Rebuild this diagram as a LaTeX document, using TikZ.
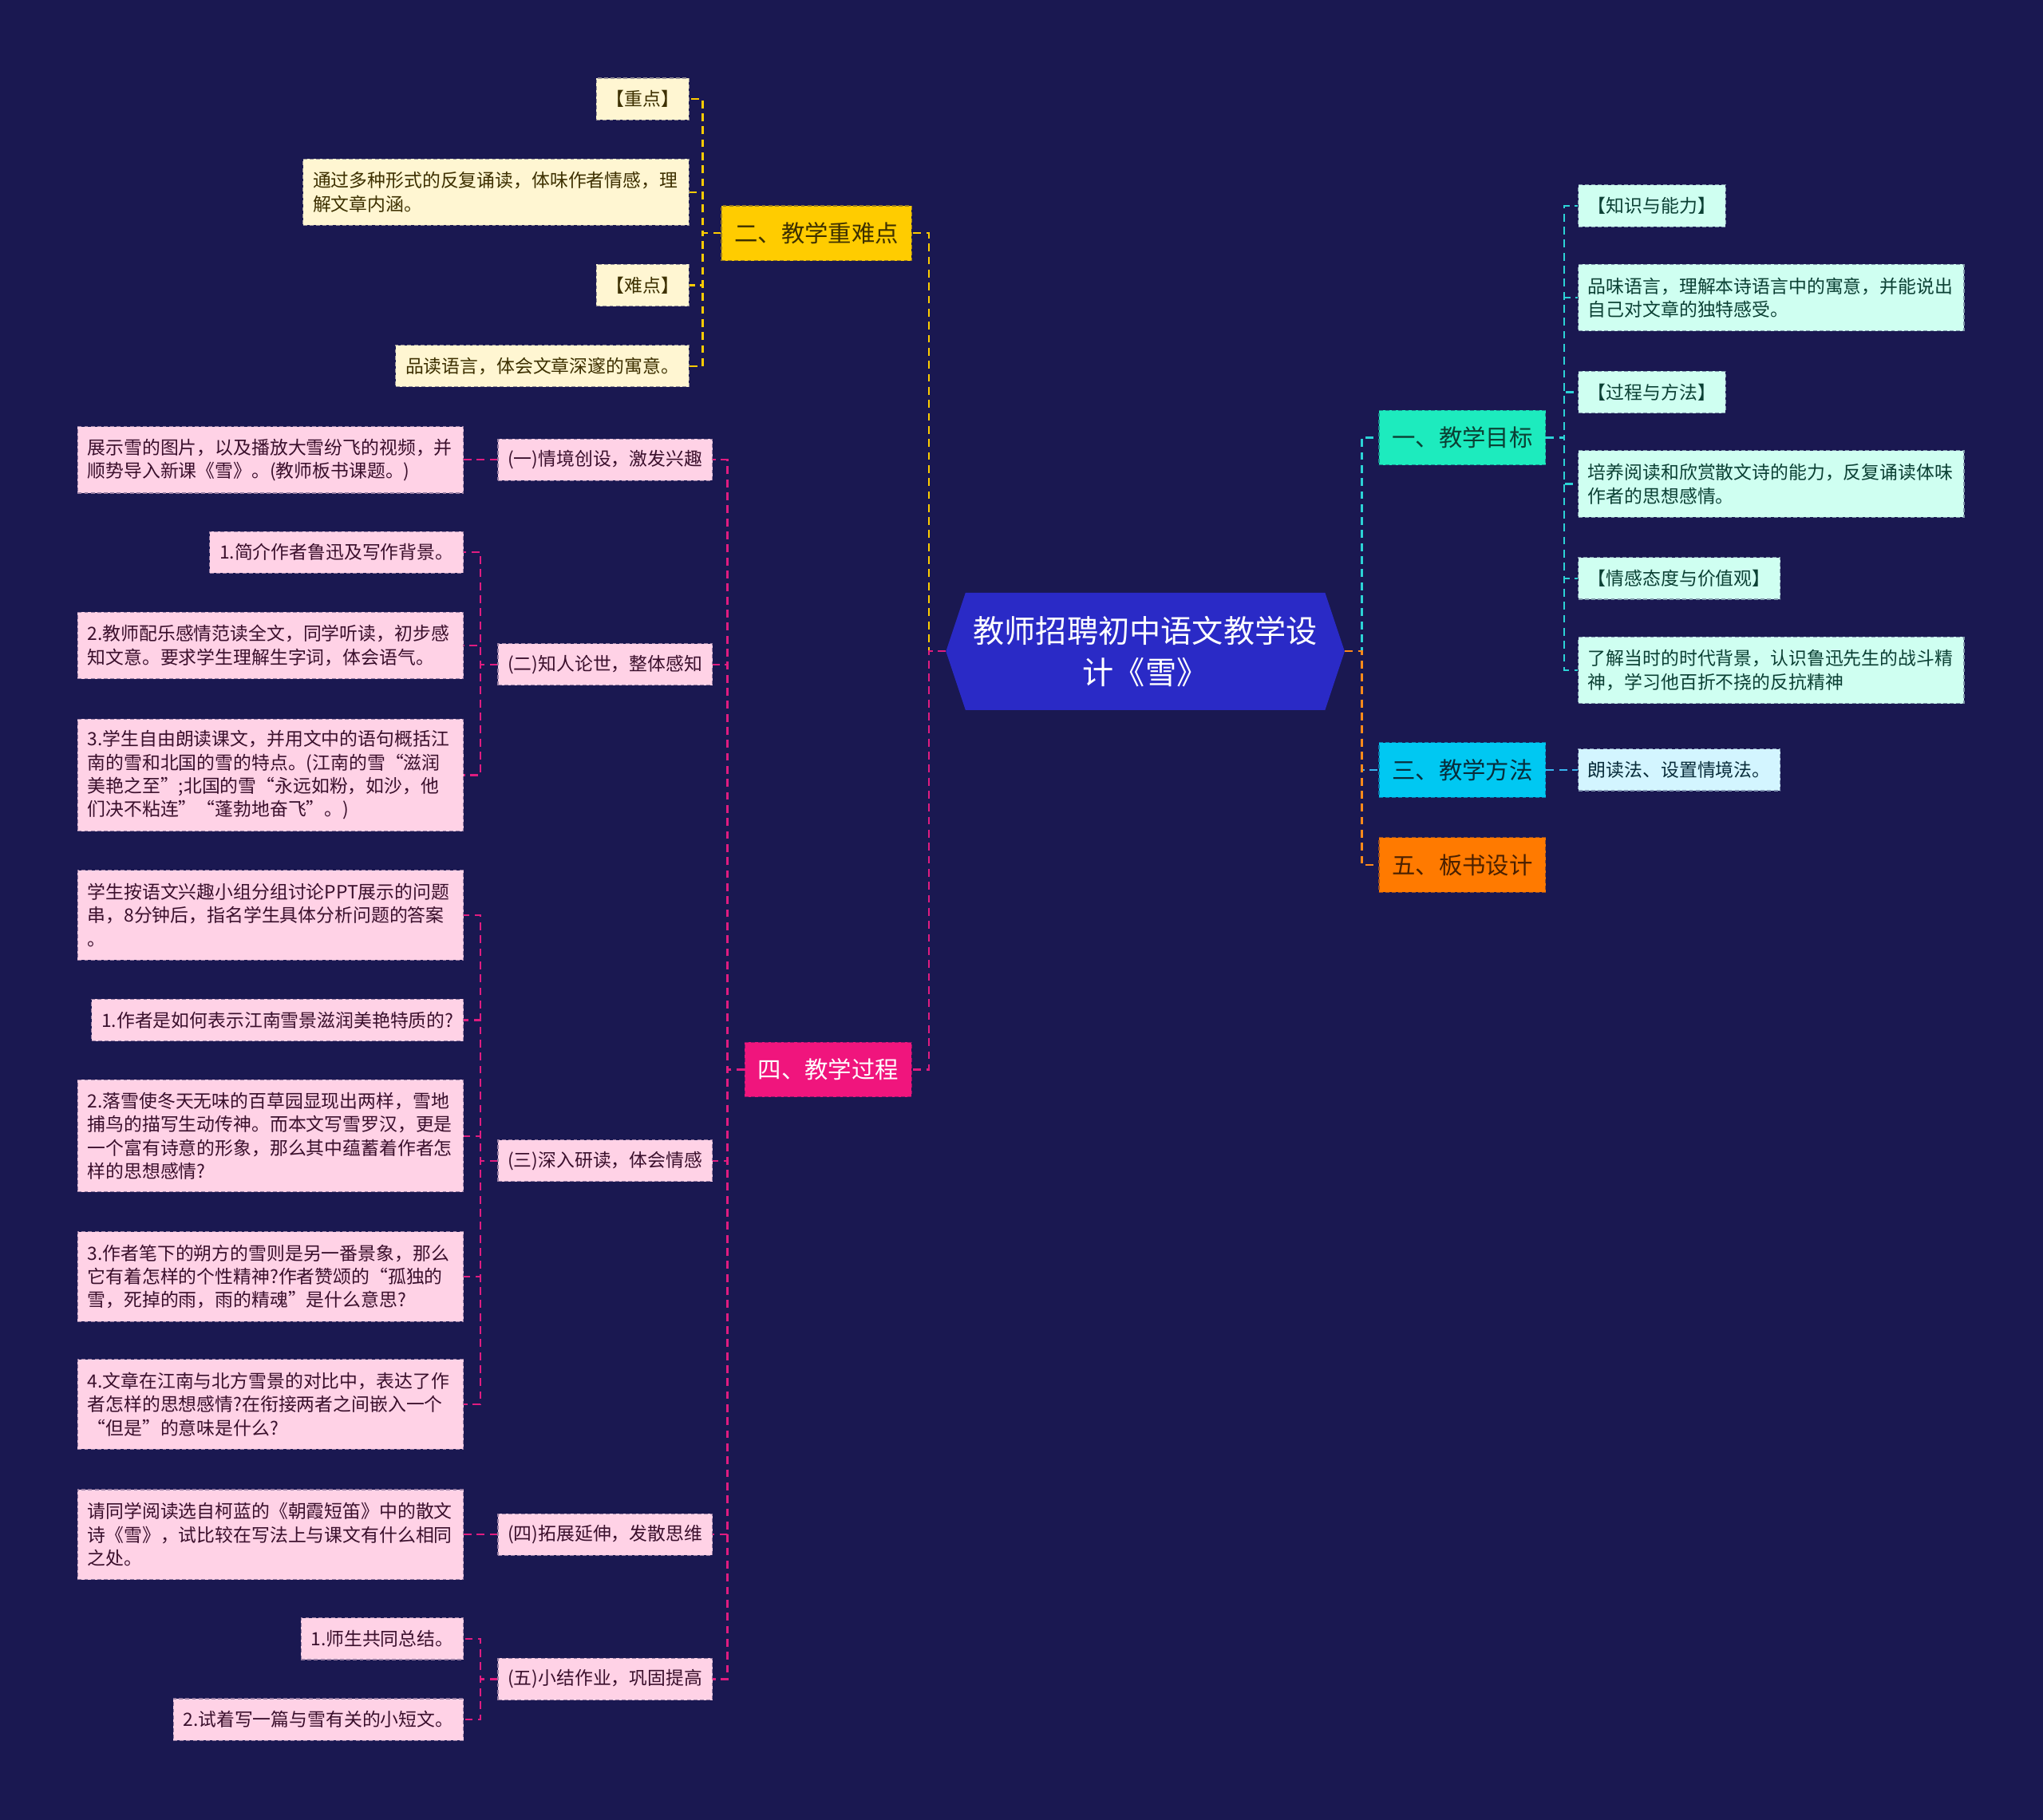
\documentclass[tikz,border=0pt]{standalone}
\usepackage{fontspec}
\setmainfont{Noto Sans CJK SC}
\definecolor{bg}{HTML}{1A1851}
\definecolor{rootblue}{HTML}{2A2AC6}
\definecolor{ycol}{HTML}{FFCC00}
\definecolor{ylight}{HTML}{FFF6D2}
\definecolor{ytext}{HTML}{3D3000}
\definecolor{tcol}{HTML}{1DEBBE}
\definecolor{tline}{HTML}{2CD3D6}
\definecolor{tlight}{HTML}{CFFFF1}
\definecolor{ttext}{HTML}{0B4034}
\definecolor{ccol}{HTML}{00C8F2}
\definecolor{cline}{HTML}{38B6F0}
\definecolor{clight}{HTML}{D3F5FF}
\definecolor{ctext}{HTML}{082C3A}
\definecolor{ocol}{HTML}{FF7A00}
\definecolor{oline}{HTML}{FF8A1A}
\definecolor{otext}{HTML}{4A2000}
\definecolor{pcol}{HTML}{F0157D}
\definecolor{pline}{HTML}{E01C80}
\definecolor{plight}{HTML}{FFD2E6}
\definecolor{ptext}{HTML}{3A0F2C}
\begin{document}
\begin{tikzpicture}[x=1pt,y=-1pt,
  rootnode/.style={rectangle, minimum width=306pt, minimum height=90pt, inner sep=0pt,
    align=center, text=white, font=\fontsize{24}{32}\selectfont,
    path picture={\fill[rootblue] (path picture bounding box.west)
      -- ([xshift=15pt]path picture bounding box.north west)
      -- ([xshift=-15pt]path picture bounding box.north east)
      -- (path picture bounding box.east)
      -- ([xshift=-15pt]path picture bounding box.south east)
      -- ([xshift=15pt]path picture bounding box.south west) -- cycle;}},
  branch/.style={rectangle, inner xsep=10pt, inner ysep=2pt, minimum height=42pt,
    font=\fontsize{18}{22}\selectfont, dashed, dash pattern=on 3pt off 2pt, line width=0.7pt},
  leaf/.style={rectangle, inner xsep=7.5pt, inner ysep=2pt, minimum height=32pt,
    font=\fontsize{14}{18}\selectfont, dashed, dash pattern=on 3pt off 2pt, line width=0.7pt},
  multi/.style={text width=281pt, align=left},
  htwo/.style={minimum height=51pt},
  hthree/.style={minimum height=69pt},
  hfour/.style={minimum height=86pt},
  ly/.style={leaf, fill=ylight, draw=ylight!55!bg, text=ytext},
  lt/.style={leaf, fill=tlight, draw=tlight!55!bg, text=ttext},
  lc/.style={leaf, fill=clight, draw=clight!55!bg, text=ctext},
  lp/.style={leaf, fill=plight, draw=plight!55!bg, text=ptext},
  link/.style={line width=1.4pt, dash pattern=on 6pt off 4pt}
]
\fill[bg] (0,0) rectangle (1568,1397);
\useasboundingbox (0,0) rectangle (1568,1397);

% root
\node[rootnode] (root) at (879,500) {教师招聘初中语文教学设\\计《雪》};

% main branches
\node[branch, fill=tcol, draw=tcol!55!bg, text=ttext, anchor=west] (b1) at (1058,336) {一、教学目标};
\node[branch, fill=ycol, draw=ycol!55!bg, text=ytext, anchor=east] (b2) at (700,179) {二、教学重难点};
\node[branch, fill=ccol, draw=ccol!55!bg, text=ctext, anchor=west] (b3) at (1058,591) {三、教学方法};
\node[branch, fill=pcol, draw=pcol!55!bg, text=white, anchor=east] (b4) at (700,821) {四、教学过程};
\node[branch, fill=ocol, draw=ocol!55!bg, text=otext, anchor=west] (b5) at (1058,664) {五、板书设计};

% leaves of b1
\node[lt, anchor=west] (t1) at (1211,158) {【知识与能力】};
\node[lt, multi, htwo, anchor=west] (t2) at (1211,228.5) {品味语言，理解本诗语言中的寓意，并能说出\\自己对文章的独特感受。};
\node[lt, anchor=west] (t3) at (1211,301) {【过程与方法】};
\node[lt, multi, htwo, anchor=west] (t4) at (1211,371.5) {培养阅读和欣赏散文诗的能力，反复诵读体味\\作者的思想感情。};
\node[lt, anchor=west] (t5) at (1211,444) {【情感态度与价值观】};
\node[lt, multi, htwo, anchor=west] (t6) at (1211,514.5) {了解当时的时代背景，认识鲁迅先生的战斗精\\神，学习他百折不挠的反抗精神};

% leaf of b3
\node[lc, anchor=west] (c1) at (1211,591) {朗读法、设置情境法。};

% leaves of b2
\node[ly, anchor=east] (y1) at (529,76) {【重点】};
\node[ly, multi, htwo, anchor=east] (y2) at (529,147.5) {通过多种形式的反复诵读，体味作者情感，理\\解文章内涵。};
\node[ly, anchor=east] (y3) at (529,219) {【难点】};
\node[ly, anchor=east] (y4) at (529,281) {品读语言，体会文章深邃的寓意。};

% sub-branches of b4
\node[lp, anchor=east] (s1) at (547,353) {(一)情境创设，激发兴趣};
\node[lp, anchor=east] (s2) at (547,510) {(二)知人论世，整体感知};
\node[lp, anchor=east] (s3) at (547,891) {(三)深入研读，体会情感};
\node[lp, anchor=east] (s4) at (547,1178) {(四)拓展延伸，发散思维};
\node[lp, anchor=east] (s5) at (547,1289) {(五)小结作业，巩固提高};

% leaves of b4 subtree
\node[lp, multi, htwo, anchor=east] (p1) at (356,353) {展示雪的图片，以及播放大雪纷飞的视频，并\\顺势导入新课《雪》。(教师板书课题。)};
\node[lp, anchor=east] (p21) at (356,424) {1.简介作者鲁迅及写作背景。};
\node[lp, multi, htwo, anchor=east] (p22) at (356,495.5) {2.教师配乐感情范读全文，同学听读，初步感\\知文意。要求学生理解生字词，体会语气。};
\node[lp, multi, hfour, anchor=east] (p23) at (356,595) {3.学生自由朗读课文，并用文中的语句概括江\\南的雪和北国的雪的特点。(江南的雪“滋润\\美艳之至”;北国的雪“永远如粉，如沙，他\\们决不粘连”“蓬勃地奋飞”。)};
\node[lp, multi, hthree, anchor=east] (p31) at (356,702.5) {学生按语文兴趣小组分组讨论PPT展示的问题\\串，8分钟后，指名学生具体分析问题的答案\\。};
\node[lp, anchor=east] (p32) at (356,783) {1.作者是如何表示江南雪景滋润美艳特质的?};
\node[lp, multi, hfour, anchor=east] (p33) at (356,872) {2.落雪使冬天无味的百草园显现出两样，雪地\\捕鸟的描写生动传神。而本文写雪罗汉，更是\\一个富有诗意的形象，那么其中蕴蓄着作者怎\\样的思想感情?};
\node[lp, multi, hthree, anchor=east] (p34) at (356,980) {3.作者笔下的朔方的雪则是另一番景象，那么\\它有着怎样的个性精神?作者赞颂的“孤独的\\雪，死掉的雨，雨的精魂”是什么意思?};
\node[lp, multi, hthree, anchor=east] (p35) at (356,1078) {4.文章在江南与北方雪景的对比中，表达了作\\者怎样的思想感情?在衔接两者之间嵌入一个\\“但是”的意味是什么?};
\node[lp, multi, hthree, anchor=east] (p41) at (356,1178) {请同学阅读选自柯蓝的《朝霞短笛》中的散文\\诗《雪》，试比较在写法上与课文有什么相同\\之处。};
\node[lp, anchor=east] (p51) at (356,1258) {1.师生共同总结。};
\node[lp, anchor=east] (p52) at (356,1320) {2.试着写一篇与雪有关的小短文。};

% connectors root
\draw[link, ycol] (root.west) -- ++(-13,0) |- (b2.east);
\draw[link, pline] (root.west) -- ++(-13,0) |- (b4.east);
\draw[link, tline] (root.east) -- ++(13,0) |- (b1.west);
\draw[link, cline] (root.east) -- ++(13,0) |- (b3.west);
\draw[link, oline] (root.east) -- ++(13,0) |- (b5.west);

% b1
\foreach \t in {t1,t2,t3,t4,t5,t6}
  \draw[link, tline] (b1.east) -- ++(14,0) |- (\t.west);
\draw[link, cline] (b3.east) -- (c1.west);

% b2
\foreach \t in {y1,y2,y3,y4}
  \draw[link, ycol] (b2.west) -- ++(-14,0) |- (\t.east);

% b4
\foreach \t in {s1,s2,s3,s4,s5}
  \draw[link, pline] (b4.west) -- ++(-13,0) |- (\t.east);
\draw[link, pline] (s1.west) -- (p1.east);
\foreach \t in {p21,p22,p23}
  \draw[link, pline] (s2.west) -- ++(-13,0) |- (\t.east);
\foreach \t in {p31,p32,p33,p34,p35}
  \draw[link, pline] (s3.west) -- ++(-13,0) |- (\t.east);
\draw[link, pline] (s4.west) -- (p41.east);
\foreach \t in {p51,p52}
  \draw[link, pline] (s5.west) -- ++(-13,0) |- (\t.east);
\end{tikzpicture}
\end{document}
